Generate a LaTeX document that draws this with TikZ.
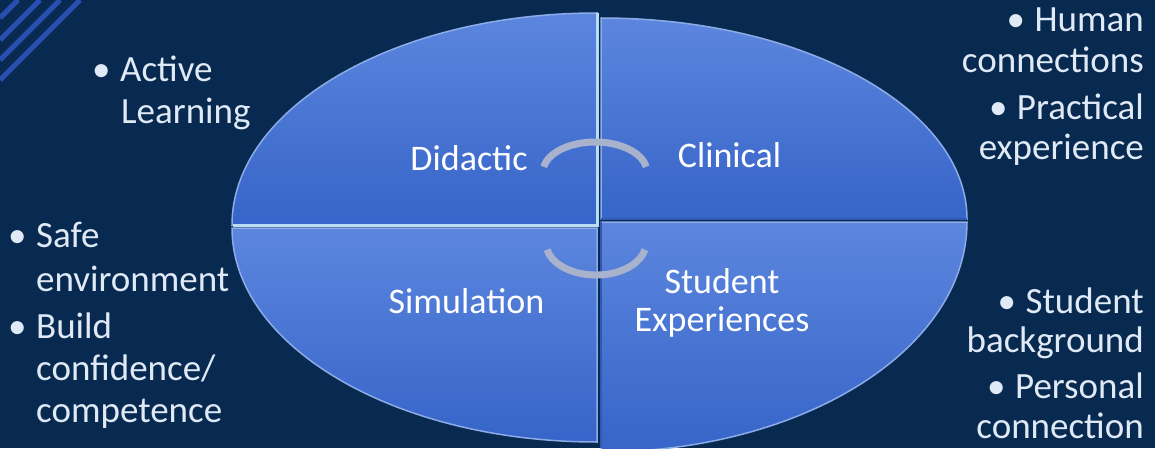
\documentclass[tikz,border=0pt]{standalone}
\usepackage{fontspec}
\setmainfont{Carlito}
\usetikzlibrary{calc}

\definecolor{navy}{RGB}{8,42,80}
\definecolor{stripeblue}{RGB}{40,78,178}
\definecolor{quadtop}{RGB}{92,134,222}
\definecolor{quadbot}{RGB}{54,100,200}
\definecolor{rimlight}{RGB}{140,172,232}
\definecolor{seamlight}{RGB}{185,220,245}
\definecolor{seamdark}{RGB}{48,88,180}
\definecolor{arcgrey}{RGB}{168,178,204}
\definecolor{listtext}{RGB}{224,234,246}

\tikzset{
  quad/.style={top color=quadtop, bottom color=quadbot, draw=rimlight, line width=1.5pt},
  seam/.style={seamlight, line width=3pt},
  loopline/.style={arcgrey, line width=7pt},
  stripe/.style={stripeblue, line width=5pt},
  quadlabel/.style={text=white, font=\fontsize{36}{40}\selectfont, anchor=base, inner sep=0pt},
  listline/.style={text=listtext, font=\fontsize{37}{41}\selectfont, inner sep=0pt},
}
\newcommand{\bul}{\makebox[28pt][l]{\textbullet}}

\begin{document}
\begin{tikzpicture}[x=1pt,y=1pt]
  \useasboundingbox (0,0) rectangle (1155,448);
  \clip (0,0) rectangle (1155,448);
  \fill[navy] (0,0) rectangle (1155,448);
  \foreach \c in {18,40,60,80}
    \draw[stripe] (\c,448) -- (0,{448-\c});

  % four quarters
  \shade[quad] (597,223) -- (232,223) arc[start angle=180, end angle=90, x radius=365, y radius=212] -- cycle;
  \shade[quad] (601,229) -- (601,430) arc[start angle=90, end angle=0, x radius=366, y radius=201] -- cycle;
  \shade[quad] (597,220) -- (232,220) arc[start angle=180, end angle=270, x radius=365, y radius=214] -- cycle;
  \shade[quad] (601,226) -- (967,226) arc[start angle=0, end angle=-90, x radius=366, y radius=230] -- cycle;
  \draw[seamdark, line width=1.5pt] (601,226) -- (601,0);
  \draw[seamdark, line width=1.5pt] (601,229) -- (967,229);
  \draw[seam] (233,223) -- (597,223) -- (597,435);

  \draw[loopline] (543.8,281.2) arc[start angle=170, end angle=10, x radius=52, y radius=30];
  \draw[loopline] (547.1,198.3) arc[start angle=192, end angle=348, x radius=50, y radius=32];

  \node[quadlabel] (didactic) at (469,278) {Didactic};
  \node[quadlabel] (clinical) at (729.5,281) {Clinical};
  \node[quadlabel] (simulation) at (466.5,135) {Simulation};
  \node[quadlabel] (student) at (722,155) {Student};
  \node[quadlabel] (experiences) at (722,117) {Experiences};

  % lists
  \node[listline, anchor=base west] (active) at (92,366) {\bul Active};
  \node[listline, anchor=base west] (learning) at (121,325) {Learning};
  \node[listline, anchor=base west] (safe) at (8,201) {\bul Safe};
  \node[listline, anchor=base west] (environment) at (36,157) {environment};
  \node[listline, anchor=base west] (build) at (8,110) {\bul Build};
  \node[listline, anchor=base west] (confidence) at (36,68) {confidence/};
  \node[listline, anchor=base west] (competence) at (36,26) {competence};
  \node[listline, anchor=base east] (human) at (1144,416) {\bul Human};
  \node[listline, anchor=base east] (connections) at (1144,375) {connections};
  \node[listline, anchor=base east] (practical) at (1144,328) {\bul Practical};
  \node[listline, anchor=base east] (experience) at (1144,289) {experience};
  \node[listline, anchor=base east] (studentbg) at (1144,135) {\bul Student};
  \node[listline, anchor=base east] (background) at (1144,96) {background};
  \node[listline, anchor=base east] (personal) at (1144,50) {\bul Personal};
  \node[listline, anchor=base east] (connection) at (1144,10) {connection};
\end{tikzpicture}
\end{document}
